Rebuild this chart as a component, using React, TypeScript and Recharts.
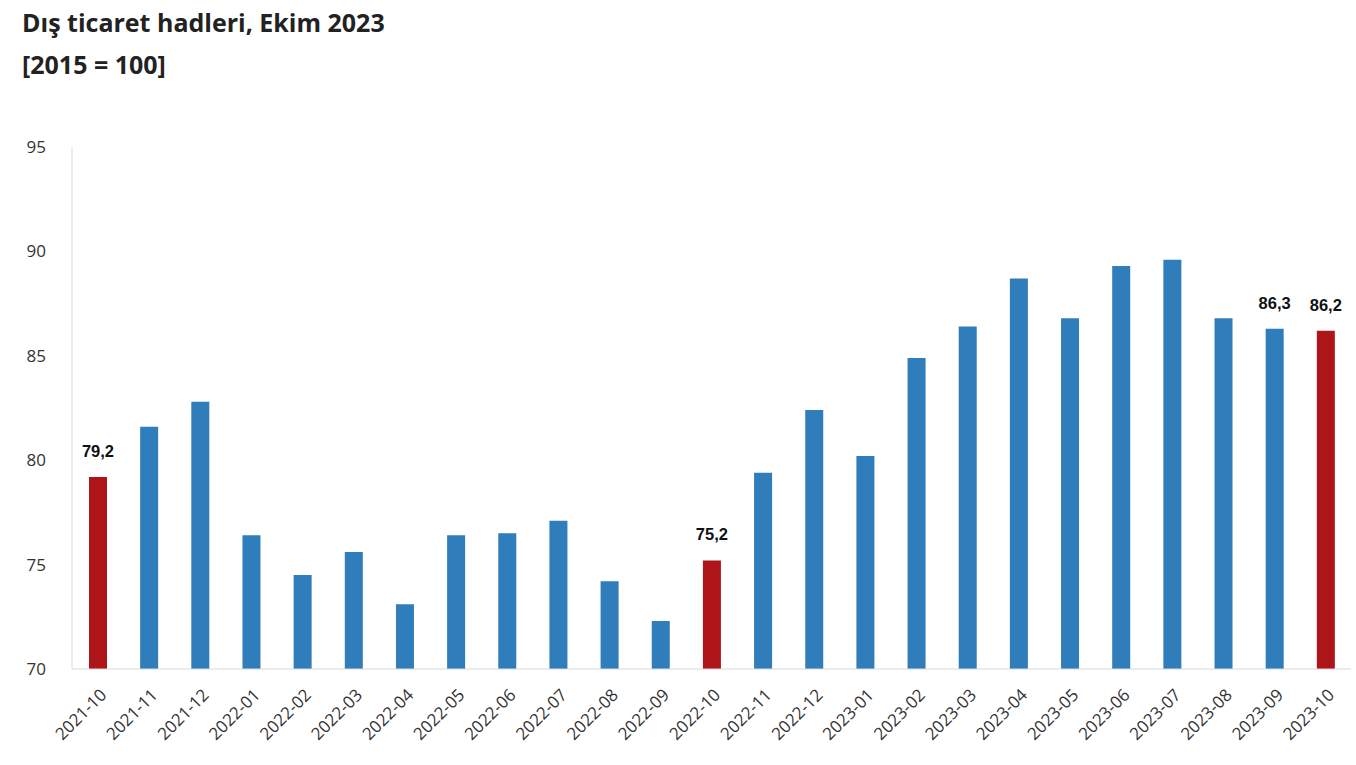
import React from 'react';
import { BarChart, Bar, XAxis, YAxis, Cell, LabelList } from 'recharts';

const months = [
  '2021-10', '2021-11', '2021-12', '2022-01', '2022-02', '2022-03', '2022-04',
  '2022-05', '2022-06', '2022-07', '2022-08', '2022-09', '2022-10', '2022-11',
  '2022-12', '2023-01', '2023-02', '2023-03', '2023-04', '2023-05', '2023-06',
  '2023-07', '2023-08', '2023-09', '2023-10',
];

const values = [
  79.2, 81.6, 82.8, 76.4, 74.5, 75.6, 73.1, 76.4, 76.5, 77.1, 74.2, 72.3, 75.2,
  79.4, 82.4, 80.2, 84.9, 86.4, 88.7, 86.8, 89.3, 89.6, 86.8, 86.3, 86.2,
];

// months drawn in red (same month of year) and months with a value label
const highlighted = ['2021-10', '2022-10', '2023-10'];
const labelled = ['2021-10', '2022-10', '2023-09', '2023-10'];

const yTicks = [70, 75, 80, 85, 90, 95];

const data = months.map((m, i) => ({ month: m, value: values[i] }));

const BLUE = '#2f7dba';
const RED = '#ae1519';

const MonthTick = ({ x, y, payload }: any) => (
  <text
    x={x + 10}
    y={y + 19}
    transform={`rotate(-45, ${x + 10}, ${y + 19})`}
    textAnchor="end"
    fontSize={17}
    fill="#333"
    fontFamily="'Open Sans', sans-serif"
  >
    {payload.value}
  </text>
);

const ValueLabel = ({ x, y, width, value, index }: any) => {
  if (!labelled.includes(months[index])) return null;
  return (
    <text
      x={x + width / 2}
      y={y - 20}
      textAnchor="middle"
      fontSize={16.5}
      fontWeight="bold"
      fill="#111"
      fontFamily="'Liberation Sans', Arial, sans-serif"
    >
      {String(value).replace('.', ',')}
    </text>
  );
};

export default function App() {
  return (
    <div
      style={{
        position: 'absolute',
        left: 0,
        top: 0,
        width: 1356,
        height: 765,
        background: '#fff',
        fontFamily: "'Open Sans', sans-serif",
      }}
    >
      <div
        style={{
          position: 'absolute',
          left: 22,
          top: 1,
          fontSize: 25,
          fontWeight: 700,
          color: '#222',
          lineHeight: '42px',
        }}
      >
        Dış ticaret hadleri, Ekim 2023
        <br />
        [2015 = 100]
      </div>
      <BarChart
        width={1356}
        height={765}
        data={data}
        margin={{ top: 147, right: 5, left: 0, bottom: 0 }}
      >
        <XAxis
          dataKey="month"
          interval={0}
          tick={<MonthTick />}
          tickLine={false}
          axisLine={{ stroke: '#d9d9d9' }}
          height={96}
        />
        <YAxis
          domain={[70, 95]}
          ticks={yTicks}
          width={72}
          tickLine={false}
          axisLine={{ stroke: '#d9d9d9' }}
          tickMargin={20}
          tick={{ fontSize: 17, fill: '#333', fontFamily: "'Open Sans', sans-serif" }}
        />
        <Bar dataKey="value" barSize={18} isAnimationActive={false}>
          {data.map((d) => (
            <Cell key={d.month} fill={highlighted.includes(d.month) ? RED : BLUE} />
          ))}
          <LabelList dataKey="value" content={<ValueLabel />} />
        </Bar>
      </BarChart>
    </div>
  );
}
